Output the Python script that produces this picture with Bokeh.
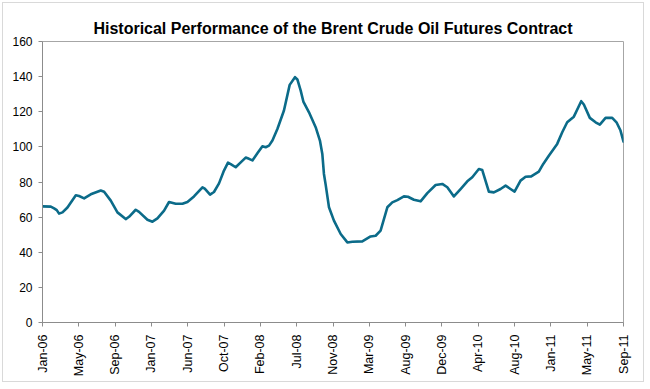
import math
from bokeh.plotting import figure
from bokeh.models import FixedTicker, ColumnDataSource
from bokeh.embed import file_html
from bokeh.resources import INLINE

# Months elapsed since Jan 2006 (fractional), and Brent price (USD/bbl)
months = [0.0, 0.97, 1.36, 1.67, 1.94, 2.34, 2.92, 3.9, 4.28, 4.87, 5.65, 6.82, 7.21,
          7.99, 8.77, 9.74, 10.13, 10.91, 11.3, 12.28, 12.87, 13.45, 14.23, 14.81,
          15.59, 16.38, 16.96, 17.73, 18.72, 18.99, 19.61, 20.07, 20.66, 21.24, 21.71,
          22.03, 22.61, 23.2, 23.78, 24.17, 24.57, 25.15, 25.74, 26.12, 26.51, 26.91,
          27.49, 28.26, 28.93, 29.55, 29.83, 30.22, 30.53, 31.19, 31.97, 32.47, 32.75,
          32.94, 33.14, 33.53, 34.11, 34.9, 35.68, 36.26, 37.43, 38.4, 38.99, 39.57,
          40.36, 40.94, 41.53, 42.3, 42.77, 43.47, 44.25, 45.04, 46.01, 46.79, 47.38,
          48.15, 48.93, 49.72, 50.3, 51.07, 51.47, 52.24, 52.83, 53.61, 54.2, 54.78,
          55.25, 55.95, 56.54, 57.2, 58.09, 58.61, 59.26, 60.24, 60.83, 61.41, 62.19,
          63.05, 63.36, 64.06, 64.73, 65.23, 65.9, 66.68, 67.18, 67.65, 68.0]
price = [66.1, 66.0, 65.0, 64.0, 62.0, 62.7, 65.5, 72.4, 72.0, 70.7, 73.0, 75.2, 74.5,
         69.4, 62.7, 58.9, 60.2, 64.2, 63.0, 58.5, 57.4, 59.3, 63.7, 68.6,
         67.6, 67.6, 68.6, 71.8, 77.0, 76.2, 72.8, 74.3, 79.2, 86.5, 91.0,
         90.2, 88.4, 91.2, 93.9, 93.2, 92.3, 96.3, 100.3, 99.8, 100.7, 103.6,
         110.2, 120.7, 135.3, 139.7, 138.4, 132.0, 125.8, 119.7, 111.2, 103.6, 96.0,
         84.6, 78.5, 65.6, 58.0, 50.4, 45.6, 46.0, 46.2, 49.0, 49.4, 52.3,
         65.6, 68.4, 69.7, 71.8, 71.6, 69.9, 69.0, 73.7, 78.3, 78.9, 77.0,
         71.8, 76.0, 80.4, 82.7, 87.4, 86.8, 74.5, 74.1, 76.0, 77.9, 76.0,
         74.5, 80.8, 83.0, 83.2, 85.9, 90.3, 95.0, 101.7, 108.3, 114.0, 117.2,
         126.0, 124.1, 116.5, 114.0, 112.7, 116.5, 116.5, 114.0, 109.3, 103.0]

tick_labels = ["Jan-06", "May-06", "Sep-06", "Jan-07", "Jun-07", "Oct-07", "Feb-08",
               "Jul-08", "Nov-08", "Mar-09", "Aug-09", "Dec-09", "Apr-10", "Aug-10",
               "Jan-11", "May-11", "Sep-11"]
total_months = 68
y_ticks = [0, 20, 40, 60, 80, 100, 120, 140, 160]

FONT = "Liberation Sans"

p = figure(width=642, height=380, output_backend="svg", toolbar_location=None,
           x_range=(0, total_months), y_range=(0, 160),
           title="Historical Performance of the Brent Crude Oil Futures Contract",
           min_border_left=39, min_border_right=22, min_border_top=38, min_border_bottom=61)
p.styles = {"border": "1px solid #d9d9d9", "margin-left": "2px", "margin-top": "2px"}

p.title.align = "center"
p.title.text_font = FONT
p.title.text_font_size = "16px"
p.title.text_font_style = "bold"
p.title.text_color = "#000000"
p.title.offset = 5
p.title.standoff = 10

src = ColumnDataSource(dict(x=months, y=price))
p.line("x", "y", source=src, line_color="#0b6b89", line_width=2.6,
       line_join="round", line_cap="round")

n = len(tick_labels) - 1
xt = [i * total_months / n for i in range(n + 1)]
p.xaxis.ticker = FixedTicker(ticks=xt)
p.xaxis.major_label_overrides = {t: lab for t, lab in zip(xt, tick_labels)}
p.xaxis.major_label_orientation = math.pi / 2
p.yaxis.ticker = FixedTicker(ticks=y_ticks)

for ax in (p.xaxis[0], p.yaxis[0]):
    ax.axis_line_color = "#8c8c8c"
    ax.major_tick_line_color = "#8c8c8c"
    ax.major_tick_out = 4
    ax.major_tick_in = 0
    ax.minor_tick_line_color = None
    ax.major_label_text_font = FONT
    ax.major_label_text_color = "#000000"
    ax.major_label_standoff = 6
p.yaxis.major_label_text_font_size = "12px"
p.xaxis.major_label_text_font_size = "12.5px"
p.xaxis.major_label_standoff = 8

p.xgrid.visible = False
p.ygrid.visible = False
p.outline_line_color = "#a6a6a6"
p.outline_line_width = 1
p.background_fill_color = "white"
p.border_fill_color = "white"

open("out.html", "w").write(file_html(p, INLINE))
